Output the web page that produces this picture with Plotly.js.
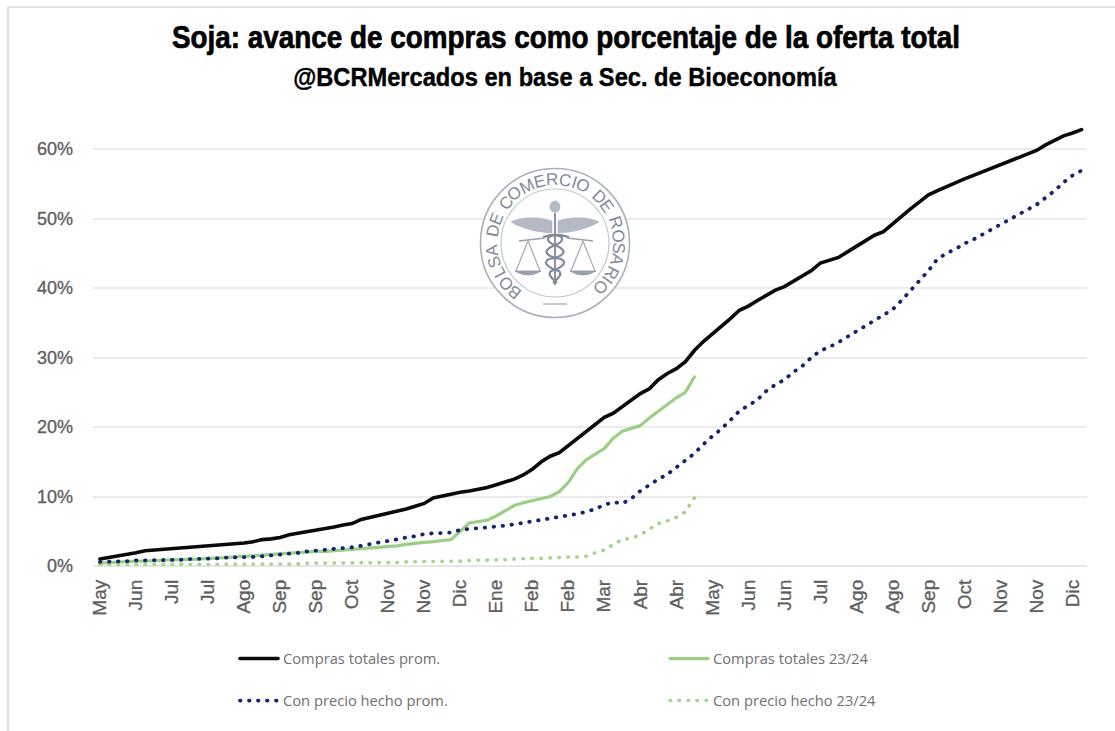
<!DOCTYPE html>
<html><head><meta charset="utf-8">
<script src="https://cdn.plot.ly/plotly-3.0.1.min.js"></script>
<style>html,body{margin:0;padding:0;background:#fff}
.js-line,.legendlines path{stroke-linecap:round}
.xtick text,.ytick text{stroke:#5f5f5f;stroke-width:.35px}</style></head>
<body><div id="chart" style="width:1115px;height:731px"></div>
<script>
const tickLabels = ["May","Jun","Jul","Jul","Ago","Sep","Sep","Oct","Nov","Nov","Dic","Ene","Feb","Feb","Mar","Abr","Abr","May","Jun","Jun","Jul","Ago","Ago","Sep","Oct","Nov","Nov","Dic"];
const comprasProm = [1.0,1.2,1.4,1.6,1.9,2.2,2.3,2.3,2.4,2.5,2.6,2.7,2.8,2.9,3.0,3.1,3.3,3.5,3.8,3.9,4.1,4.5,4.7,4.9,5.2,5.4,5.6,5.9,6.1,6.7,7.0,7.2,7.5,7.9,8.2,8.6,9.0,9.8,10.1,10.3,10.6,10.8,11.0,11.3,11.7,12.1,12.5,13.1,13.9,15.0,15.8,16.3,17.3,18.3,19.3,20.4,21.4,22.0,22.9,23.9,24.8,25.5,26.8,27.7,28.4,29.4,31.0,32.3,33.4,34.4,35.6,36.8,37.4,38.2,39.0,39.7,40.2,41.0,41.7,42.5,43.6,44.0,44.4,45.2,46.0,46.8,47.6,48.1,49.2,50.4,51.4,52.4,53.4,54.0,54.6,55.2,55.7,56.2,56.7,57.2,57.7,58.2,58.7,59.2,59.8,60.6,61.3,61.9,62.3,62.8];
const precioProm = [0.6,0.6,0.7,0.7,0.8,0.8,0.8,0.9,0.9,0.9,1.0,1.0,1.0,1.1,1.2,1.2,1.3,1.3,1.4,1.5,1.6,1.8,1.9,2.1,2.2,2.3,2.4,2.5,2.7,2.9,3.2,3.4,3.6,3.9,4.1,4.3,4.6,4.7,4.7,4.8,5.2,5.3,5.4,5.5,5.7,5.8,6.0,6.2,6.5,6.7,6.9,7.0,7.3,7.5,7.8,8.2,8.8,9.2,9.0,9.7,10.8,11.7,12.5,13.2,14.2,15.2,16.2,17.5,18.7,19.7,21.0,22.3,23.1,23.9,25.2,26.1,26.8,27.9,28.8,30.0,31.0,31.5,32.2,33.0,33.8,34.6,35.4,36.1,36.9,38.2,39.6,41.0,42.5,44.2,45.0,45.6,46.4,47.0,47.7,48.4,49.1,49.9,50.6,51.2,52.0,53.0,54.0,55.2,56.2,56.9];
const comprasCampana = [0.4,0.5,0.6,0.6,0.7,0.7,0.8,0.8,0.9,0.9,0.9,1.0,1.1,1.1,1.2,1.3,1.4,1.5,1.5,1.6,1.7,1.8,1.9,2.0,2.1,2.1,2.2,2.2,2.3,2.4,2.5,2.6,2.7,2.9,3.1,3.3,3.4,3.5,3.6,3.8,5.0,6.2,6.4,6.6,7.2,8.0,8.7,9.1,9.4,9.8,10.0,10.7,12.0,14.0,15.3,16.1,16.9,18.4,19.4,19.8,20.2,21.3,22.3,23.3,24.2,25.0,27.2];
const precioCampana = [0.2,0.2,0.2,0.2,0.2,0.2,0.2,0.2,0.2,0.2,0.2,0.2,0.2,0.2,0.2,0.2,0.2,0.2,0.2,0.3,0.3,0.3,0.3,0.4,0.4,0.4,0.4,0.4,0.5,0.5,0.5,0.5,0.5,0.5,0.6,0.6,0.6,0.7,0.7,0.7,0.7,0.8,0.8,0.8,0.9,0.9,1.0,1.1,1.1,1.1,1.2,1.2,1.3,1.3,1.4,1.9,2.3,3.1,3.8,4.0,4.5,5.3,6.1,6.5,7.0,7.8,9.8];
const yTicks = [0,10,20,30,40,50,60];
const sealWords = "BOLSA DE COMERCIO DE ROSARIO";

const W=1115,H=731, mL=93,mR=28,mT=114,mB=165;
const px = x => (x-mL)/(W-mL-mR);
const py = y => 1-(y-mT)/(H-mT-mB);
const weeks = a => a.map((_,i)=>i);
const tickVals = tickLabels.map((_,i)=>i*4);

function tr(name,y,color,width,dash,legend){
  return {type:'scatter',mode:'lines',name,x:weeks(y),y,legend,
    line:{color,width,dash,shape:'linear'},hoverinfo:'skip'};
}
const DOT='0.5px,8.5px';
const traces=[
  tr('Con precio hecho 23/24',precioCampana,'#a5d490',3.6,DOT,'legend4'),
  tr('Compras totales 23/24',comprasCampana,'#9bcf85',3.2,'solid','legend2'),
  tr('Compras totales prom.',comprasProm,'#0a0a0a',3.6,'solid','legend'),
  tr('Con precio hecho prom.',precioProm,'#14246e',3.8,DOT,'legend3')
];
function leg(x,y){return {x:px(x),y:py(y),xanchor:'left',yanchor:'middle',bgcolor:'rgba(0,0,0,0)',itemwidth:38,
  font:{family:'Open Sans, sans-serif',size:14.7,color:'#707070'},itemclick:false,itemdoubleclick:false};}

// seal emblem, page pixels
const cx=555,cy=243, sc='#8d97a6';
function P(d){return d.replace(/(-?\d+(?:\.\d+)?),(-?\d+(?:\.\d+)?)/g,(m,a,b)=>px(cx+ +a).toFixed(5)+','+py(cy+ +b).toFixed(5));}
function circ(r,col,w,fill){return {type:'circle',xref:'paper',yref:'paper',x0:px(cx-r),x1:px(cx+r),y0:py(cy+r),y1:py(cy-r),line:{color:col,width:w},fillcolor:fill||'rgba(0,0,0,0)',layer:'above'};}
function path(d,col,w,fill){return {type:'path',xref:'paper',yref:'paper',path:P(d),line:{color:col,width:w},fillcolor:fill||'rgba(0,0,0,0)',layer:'above'};}
const sealShapes=[
  circ(74.5,'#a9b0bb',1.6,'#ffffff'),
  circ(54,'#c3c8d0',1.2),
  path('M -12,61 L 12,61',"#c6cad1",2),
  // wings
  path('M -3,-22 C -16,-27 -36,-26 -44,-21 C -36,-16 -28,-14 -20,-12 C -14,-11 -8,-10 -3,-10 Z','#a7afbb',0.5,'#b3bac5'),
  path('M 3,-22 C 16,-27 36,-26 44,-21 C 36,-16 28,-14 20,-12 C 14,-11 8,-10 3,-10 Z','#a7afbb',0.5,'#b3bac5'),
  // head and staff
  path('M -5,-36 C -5,-44 5,-44 5,-36 C 5,-29 -5,-29 -5,-36 Z','#a7afbb',0.5,'#b3bac5'),
  path('M 0,-30 L 0,42',"#8a94a3",2),
  // snakes
  path('M -12,-6 C 8,-12 14,-2 -2,3 C -14,8 -8,14 6,16 C 14,20 4,26 -4,28 C -8,32 -2,36 2,40',"#7f8a98",2.2),
  path('M 14,-6 C -8,-12 -14,-2 2,3 C 14,8 8,14 -6,16 C -14,20 -4,26 4,28 C 8,32 2,36 -2,40',"#7f8a98",2.2),
  // balance beam and pans
  path('M -36,-2 L -10,-5 M 38,-2 L 12,-5',"#98a1af",1.5),
  path('M -27,-2 L -39,28 M -27,-2 L -15,28 M 28,-2 L 40,28 M 28,-2 L 16,28',"#a3abb8",1.2),
  path('M -40,28 Q -27,36 -14,28 Z',sc,0.8,'#98a1af'),
  path('M 41,28 Q 28,36 15,28 Z',sc,0.8,'#98a1af')
];
const sealStart=-141, sealEnd=134, sealR=63.5;
const glyphW = ch => ch===' ' ? 0.5 : ch==='I' ? 0.45 : ch==='M' ? 1.25 : ch==='L'||ch==='E'||ch==='S' ? 0.9 : 1;
const sealChars=[...sealWords];
const sealAdv=[0];
sealChars.slice(1).forEach((ch,i)=>sealAdv.push(sealAdv[i]+(glyphW(sealChars[i])+glyphW(ch))/2));
const sealText=sealChars.map((ch,i)=>{
  const deg=sealStart+(sealEnd-sealStart)*sealAdv[i]/sealAdv[sealAdv.length-1], rad=deg*Math.PI/180;
  return {text:ch,xref:'paper',yref:'paper',x:px(cx+sealR*Math.sin(rad)),y:py(cy-sealR*Math.cos(rad)),
    xanchor:'center',yanchor:'middle',showarrow:false,textangle:deg,
    font:{family:'Liberation Sans, sans-serif',size:17,color:'#7f8a99'}};
}).filter(a=>a.text!==' ');

const tickColor='#5f5f5f';
const layout={
  width:W,height:H,paper_bgcolor:'#fff',plot_bgcolor:'rgba(0,0,0,0)',showlegend:true,
  margin:{l:mL,r:mR,t:mT,b:mB,pad:0},
  title:{text:'<b>Soja: avance de compras como porcentaje de la oferta total</b>',
    x:566/W,xanchor:'center',y:1-37/H,yanchor:'middle',
    font:{family:'Liberation Sans, sans-serif',size:31,color:'#000'}},
  xaxis:{type:'linear',range:[-0.78,109.6],tickmode:'array',tickvals:tickVals,ticktext:tickLabels,
    tickangle:-90,ticks:'',showgrid:false,zeroline:false,showline:false,ticklabelstandoff:9,
    tickfont:{family:'Liberation Sans, sans-serif',size:19,color:tickColor}},
  yaxis:{range:[0,65.04],tickmode:'array',tickvals:yTicks,ticktext:yTicks.map(v=>v+'%'),
    ticks:'',showgrid:true,gridcolor:'#ebebeb',gridwidth:1.5,zeroline:true,zerolinecolor:'#e6e6e6',zerolinewidth:1.5,showline:false,ticklabelstandoff:19,
    tickfont:{family:'Liberation Sans, sans-serif',size:18,color:tickColor}},
  legend:leg(235,659),legend2:leg(665,659),legend3:leg(235,701),legend4:leg(665,701),
  shapes:[
    {type:'line',xref:'paper',yref:'paper',x0:px(8),x1:px(8),y0:py(7),y1:py(731),line:{color:'#e2e2e2',width:2},layer:'below'},
    {type:'line',xref:'paper',yref:'paper',x0:px(7),x1:px(1115),y0:py(7),y1:py(7),line:{color:'#e2e2e2',width:2},layer:'below'}
  ].concat(sealShapes),
  annotations:[
    {text:'<b>@BCRMercados en base a Sec. de Bioeconomía</b>',xref:'paper',yref:'paper',x:px(566),y:py(77),
     xanchor:'center',yanchor:'middle',showarrow:false,captureevents:false,
     font:{family:'Liberation Sans, sans-serif',size:25,color:'#000'}}
  ].concat(sealText)
};
function fitWidth(el,left,right,stroke){
  if(!el) return;
  const b=el.getBBox(), r=el.getBoundingClientRect();
  const off=r.left-b.x, s=(right-left)/r.width;
  el.setAttribute('transform',`translate(${left-off},0) scale(${s},1) translate(${-b.x},0)`);
  el.style.stroke='#000'; el.style.strokeWidth=stroke+'px';
}
Plotly.newPlot('chart',traces,layout,{displayModeBar:false,responsive:false}).then(()=>{
  fitWidth(document.querySelector('.gtitle'),172,960,0.7);
  fitWidth(document.querySelector('.annotation-text'),293,838,0.4);
});
</script></body></html>
